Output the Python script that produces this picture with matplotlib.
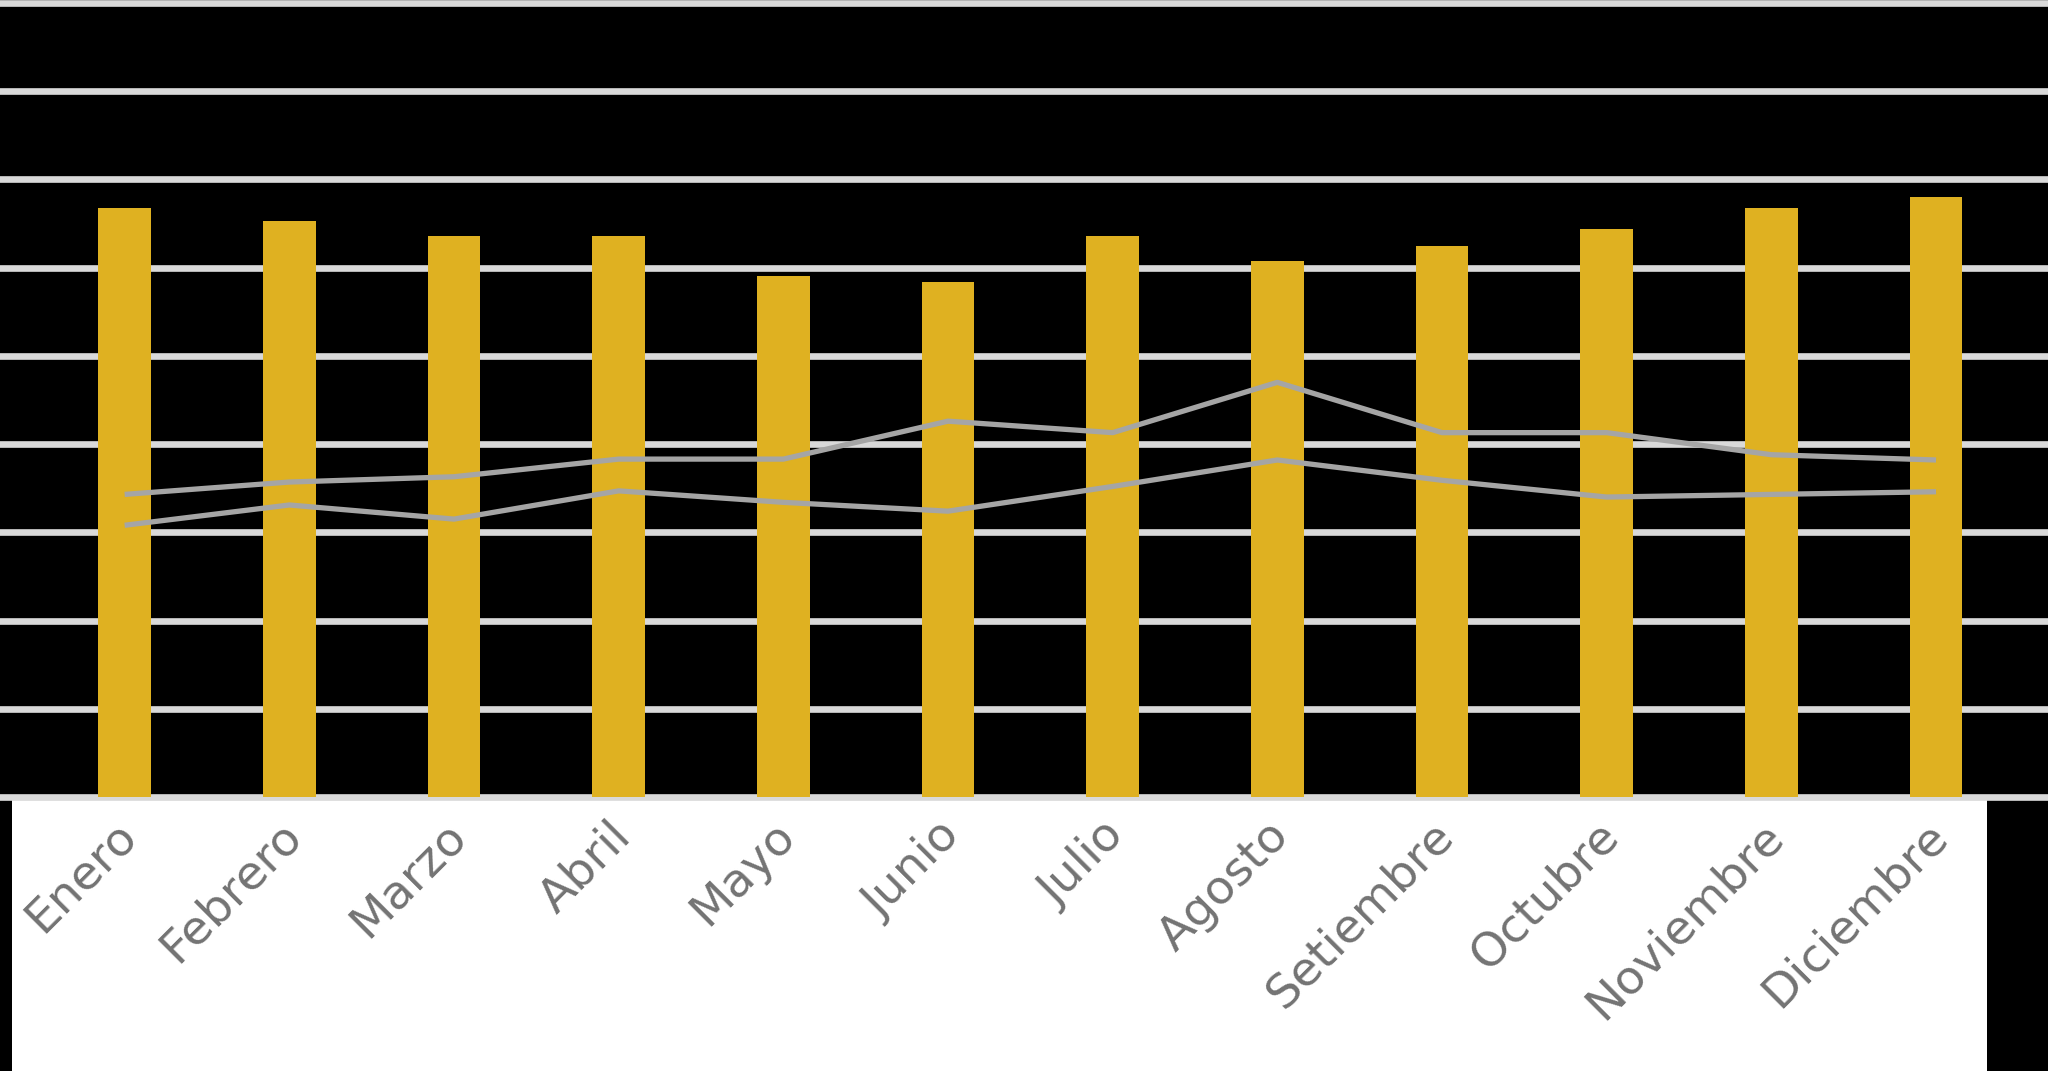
import matplotlib
matplotlib.use("Agg")
import matplotlib.pyplot as plt
import matplotlib.transforms as mtransforms
from matplotlib.patches import Rectangle
import numpy as np

months = ["Enero", "Febrero", "Marzo", "Abril", "Mayo", "Junio", "Julio",
          "Agosto", "Setiembre", "Octubre", "Noviembre", "Diciembre"]
bars = [66.8, 65.3, 63.6, 63.6, 59.0, 58.4, 63.6, 60.7, 62.5, 64.4, 66.8, 68.0]
line_upper = [34.3, 35.7, 36.3, 38.3, 38.3, 42.6, 41.3, 47.0, 41.3, 41.3, 38.8, 38.2]
line_lower = [30.8, 33.1, 31.5, 34.7, 33.4, 32.4, 35.2, 38.2, 35.9, 34.0, 34.3, 34.6]

W, H = 2048, 1071
fig = plt.figure(figsize=(W / 100, H / 100), dpi=100, facecolor="black")

# white label area
fig.add_artist(Rectangle((12 / W, 0), (1987 - 12) / W, (H - 799) / H,
                         transform=fig.transFigure, facecolor="white",
                         edgecolor="none", zorder=-1))

ax = fig.add_axes([0, (H - 797) / H, 1, (797 - 3) / H])
ax.set_facecolor("black")
x = np.arange(len(months))
ax.bar(x, bars, width=0.32, color="#DFB121", zorder=2)
ax.plot(x, line_upper, color="#A5A5A5", lw=3.8, zorder=3, solid_capstyle="butt")
ax.plot(x, line_lower, color="#A5A5A5", lw=3.8, zorder=3, solid_capstyle="butt")

ax.set_ylim(0, 90)
ax.set_yticks(np.arange(0, 91, 10))
ax.set_xlim(-0.757, 11.68)
ax.grid(axis="y", color="#D9D9D9", lw=4.8, zorder=0, clip_on=False)
ax.set_axisbelow(True)
for s in ax.spines.values():
    s.set_visible(False)
ax.tick_params(axis="y", left=False, labelleft=False)
ax.tick_params(axis="x", length=0, pad=23)
ax.set_xticks(x)
ax.set_xticklabels(months, rotation=45, ha="right", va="center",
                   rotation_mode="anchor", fontsize=34, color="#737373",
                   family="DejaVu Sans")
offset = mtransforms.ScaledTranslation(5 / 100, 0, fig.dpi_scale_trans)
for lab in ax.get_xticklabels():
    lab.set_transform(lab.get_transform() + offset)

fig.savefig("out.png", dpi=100, facecolor="black")
